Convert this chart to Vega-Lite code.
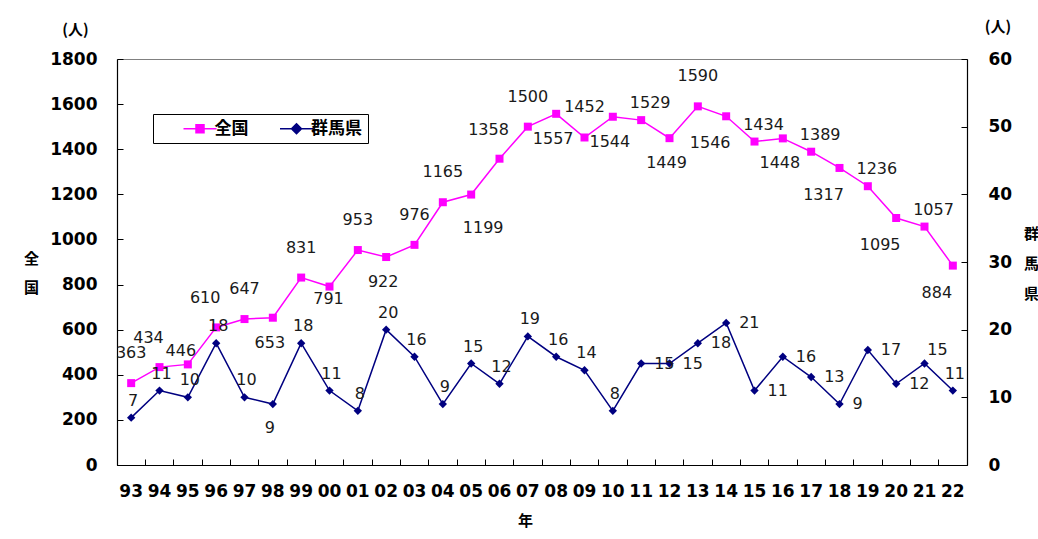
{
  "$schema": "https://vega.github.io/schema/vega-lite/v6.json",
  "width": 850,
  "height": 406,
  "autosize": {"type": "none"},
  "padding": {"left": 117, "top": 59, "right": 71, "bottom": 74},
  "background": "white",
  "config": {
    "font": "DejaVu Sans",
    "view": {"stroke": "#808080", "strokeWidth": 1},
    "axis": {"domainColor": "#000", "tickColor": "#000", "grid": false, "labelColor": "#000", "titleColor": "#000", "domainWidth": 1.2}
  },
  "title": {"text": "(人)", "anchor": "start", "frame": "group", "align": "center", "dx": 881, "dy": 17, "font": "Noto Sans CJK JP", "fontSize": 15, "fontWeight": "bold", "color": "#000"},
  "data": {"values": [
    {"year": "93", "national": 363, "gunma": 7},
    {"year": "94", "national": 434, "gunma": 11},
    {"year": "95", "national": 446, "gunma": 10},
    {"year": "96", "national": 610, "gunma": 18},
    {"year": "97", "national": 647, "gunma": 10},
    {"year": "98", "national": 653, "gunma": 9},
    {"year": "99", "national": 831, "gunma": 18},
    {"year": "00", "national": 791, "gunma": 11},
    {"year": "01", "national": 953, "gunma": 8},
    {"year": "02", "national": 922, "gunma": 20},
    {"year": "03", "national": 976, "gunma": 16},
    {"year": "04", "national": 1165, "gunma": 9},
    {"year": "05", "national": 1199, "gunma": 15},
    {"year": "06", "national": 1358, "gunma": 12},
    {"year": "07", "national": 1500, "gunma": 19},
    {"year": "08", "national": 1557, "gunma": 16},
    {"year": "09", "national": 1452, "gunma": 14},
    {"year": "10", "national": 1544, "gunma": 8},
    {"year": "11", "national": 1529, "gunma": 15},
    {"year": "12", "national": 1449, "gunma": 15},
    {"year": "13", "national": 1590, "gunma": 18},
    {"year": "14", "national": 1546, "gunma": 21},
    {"year": "15", "national": 1434, "gunma": 11},
    {"year": "16", "national": 1448, "gunma": 16},
    {"year": "17", "national": 1389, "gunma": 13},
    {"year": "18", "national": 1317, "gunma": 9},
    {"year": "19", "national": 1236, "gunma": 17},
    {"year": "20", "national": 1095, "gunma": 12},
    {"year": "21", "national": 1057, "gunma": 15},
    {"year": "22", "national": 884, "gunma": 11}
  ]},
  "layer": [
    {
      "encoding": {
        "x": {"field": "year", "type": "ordinal", "bandPosition": 0.5,
          "scale": {"type": "band", "paddingInner": 0, "paddingOuter": 0, "domain": ["93","94","95","96","97","98","99","00","01","02","03","04","05","06","07","08","09","10","11","12","13","14","15","16","17","18","19","20","21","22"]},
          "axis": {"orient": "bottom", "bandPosition": 0, "labelAngle": 0, "labelFont": "DejaVu Sans", "labelFontSize": 17, "labelFontWeight": "bold", "labelPadding": 24, "tickSize": -6, "labelOverlap": false,
            "title": "年", "titleFont": "Noto Sans CJK JP", "titleFontSize": 15, "titleFontWeight": "bold", "titleX": 408, "titleY": 55, "titleAlign": "center", "titleBaseline": "middle"}},
        "y": {"field": "national", "type": "quantitative", "scale": {"domain": [0, 1800], "nice": false},
          "axis": {"values": [0,200,400,600,800,1000,1200,1400,1600,1800], "format": "d", "labelFont": "DejaVu Sans", "labelFontSize": 17, "labelFontWeight": "bold", "labelPadding": 26, "tickSize": -6,
            "title": ["全", "国"], "titleAngle": 0, "titleX": -86, "titleY": 199, "titleFont": "Noto Sans CJK JP", "titleFontSize": 15, "titleFontWeight": "bold", "titleLineHeight": 29, "titleAlign": "center", "titleBaseline": "middle"}}
      },
      "layer": [
        {"mark": {"type": "line", "color": "#FF00FF", "strokeWidth": 1.5, "point": {"shape": "square", "size": 64, "filled": true, "color": "#FF00FF", "opacity": 1}}},
        {"transform": [{"filter": "false"}],
         "mark": {"type": "point", "filled": true, "opacity": 1},
         "encoding": {
           "color": {"field": "series", "type": "nominal", "scale": {"domain": ["全国", "群馬県"], "range": ["#FF00FF", "#000080"]},
             "legend": {"title": null, "orient": "none", "legendX": 36, "legendY": 55, "direction": "horizontal", "strokeColor": "#000", "fillColor": "#fff", "padding": 6,
               "symbolSize": 100, "symbolStrokeWidth": 1.5, "symbolOffset": 32.5, "labelOffset": 6, "columnPadding": 6.5,
               "labelFont": "Noto Sans CJK JP", "labelFontSize": 17, "labelFontWeight": "bold", "labelColor": "#000"}},
           "stroke": {"field": "series", "type": "nominal", "scale": {"domain": ["全国", "群馬県"], "range": ["#FF00FF", "#000080"]}},
           "shape": {"field": "series", "type": "nominal", "scale": {"domain": ["全国", "群馬県"], "range": ["M-3.3,0H3.3M-0.8,-0.8H0.8V0.8H-0.8Z", "M-3.3,0H3.3M0,-1L1,0L0,1L-1,0Z"]}}
         }},
        {"transform": [{"filter": {"field": "year", "oneOf": ["93","97","99","01","03","04","07","09","13"]}}],
         "mark": {"type": "text", "dx": 0, "dy": -30, "fontSize": 16, "color": "#1a1a1a"},
         "encoding": {"text": {"field": "national", "type": "quantitative", "format": "d"}}},
        {"transform": [{"filter": {"field": "year", "oneOf": ["94","96","06"]}}],
         "mark": {"type": "text", "dx": -11, "dy": -29, "fontSize": 16, "color": "#1a1a1a"},
         "encoding": {"text": {"field": "national", "type": "quantitative", "format": "d"}}},
        {"transform": [{"filter": {"field": "year", "oneOf": ["11","15","17","19","21"]}}],
         "mark": {"type": "text", "dx": 9, "dy": -17, "fontSize": 16, "color": "#1a1a1a"},
         "encoding": {"text": {"field": "national", "type": "quantitative", "format": "d"}}},
        {"transform": [{"filter": {"field": "year", "oneOf": ["95"]}}],
         "mark": {"type": "text", "dx": -7, "dy": -13, "fontSize": 16, "color": "#1a1a1a"},
         "encoding": {"text": {"field": "national", "type": "quantitative", "format": "d"}}},
        {"transform": [{"filter": {"field": "year", "oneOf": ["98","02","08","10","12","16"]}}],
         "mark": {"type": "text", "dx": -3, "dy": 25, "fontSize": 16, "color": "#1a1a1a"},
         "encoding": {"text": {"field": "national", "type": "quantitative", "format": "d"}}},
        {"transform": [{"filter": {"field": "year", "oneOf": ["00"]}}],
         "mark": {"type": "text", "dx": -1, "dy": 12, "fontSize": 16, "color": "#1a1a1a"},
         "encoding": {"text": {"field": "national", "type": "quantitative", "format": "d"}}},
        {"transform": [{"filter": {"field": "year", "oneOf": ["14","18","20","22"]}}],
         "mark": {"type": "text", "dx": -16, "dy": 27, "fontSize": 16, "color": "#1a1a1a"},
         "encoding": {"text": {"field": "national", "type": "quantitative", "format": "d"}}},
        {"transform": [{"filter": {"field": "year", "oneOf": ["05"]}}],
         "mark": {"type": "text", "dx": 12, "dy": 33, "fontSize": 16, "color": "#1a1a1a"},
         "encoding": {"text": {"field": "national", "type": "quantitative", "format": "d"}}}
      ]
    },
    {
      "encoding": {
        "x": {"field": "year", "type": "ordinal", "bandPosition": 0.5,
          "scale": {"type": "band", "paddingInner": 0, "paddingOuter": 0, "domain": ["93","94","95","96","97","98","99","00","01","02","03","04","05","06","07","08","09","10","11","12","13","14","15","16","17","18","19","20","21","22"]},
          "axis": {"orient": "top", "labels": false, "ticks": false, "domain": false,
            "title": "(人)", "titleX": -42, "titleY": -30, "titleFont": "Noto Sans CJK JP", "titleFontSize": 15, "titleFontWeight": "bold", "titleAngle": 0, "titleAlign": "center", "titleBaseline": "middle"}},
        "y": {"field": "gunma", "type": "quantitative", "scale": {"domain": [0, 60], "nice": false},
          "axis": {"orient": "right", "values": [0,10,20,30,40,50,60], "format": "d", "labelFont": "DejaVu Sans", "labelFontSize": 17, "labelFontWeight": "bold", "labelPadding": 27, "tickSize": -6,
            "title": ["群", "馬", "県"], "titleAngle": 0, "titleX": 64, "titleY": 174, "titleFont": "Noto Sans CJK JP", "titleFontSize": 15, "titleFontWeight": "bold", "titleLineHeight": 30, "titleAlign": "center", "titleBaseline": "middle"}}
      },
      "layer": [
        {"mark": {"type": "line", "color": "#000080", "strokeWidth": 1.5, "point": {"shape": "diamond", "size": 70, "filled": true, "color": "#000080", "opacity": 1}}},
        {"transform": [{"filter": {"field": "year", "oneOf": ["93","94","95","96","97","99","00","01","02","03","04","05","06","07","08","09","10","22"]}}],
         "mark": {"type": "text", "dx": 2, "dy": -17, "fontSize": 16, "color": "#1a1a1a"},
         "encoding": {"text": {"field": "gunma", "type": "quantitative", "format": "d"}}},
        {"transform": [{"filter": {"field": "year", "oneOf": ["98"]}}],
         "mark": {"type": "text", "dx": -3, "dy": 24, "fontSize": 16, "color": "#1a1a1a"},
         "encoding": {"text": {"field": "gunma", "type": "quantitative", "format": "d"}}},
        {"transform": [{"filter": {"field": "year", "oneOf": ["11","12","13","14","15","16","17","18","19","20"]}}],
         "mark": {"type": "text", "align": "left", "dx": 13, "dy": 0, "fontSize": 16, "color": "#1a1a1a"},
         "encoding": {"text": {"field": "gunma", "type": "quantitative", "format": "d"}}},
        {"transform": [{"filter": {"field": "year", "oneOf": ["21"]}}],
         "mark": {"type": "text", "dx": 13, "dy": -14, "fontSize": 16, "color": "#1a1a1a"},
         "encoding": {"text": {"field": "gunma", "type": "quantitative", "format": "d"}}}
      ]
    }
  ],
  "resolve": {"scale": {"y": "independent"}, "axis": {"y": "independent", "x": "independent"}}
}
